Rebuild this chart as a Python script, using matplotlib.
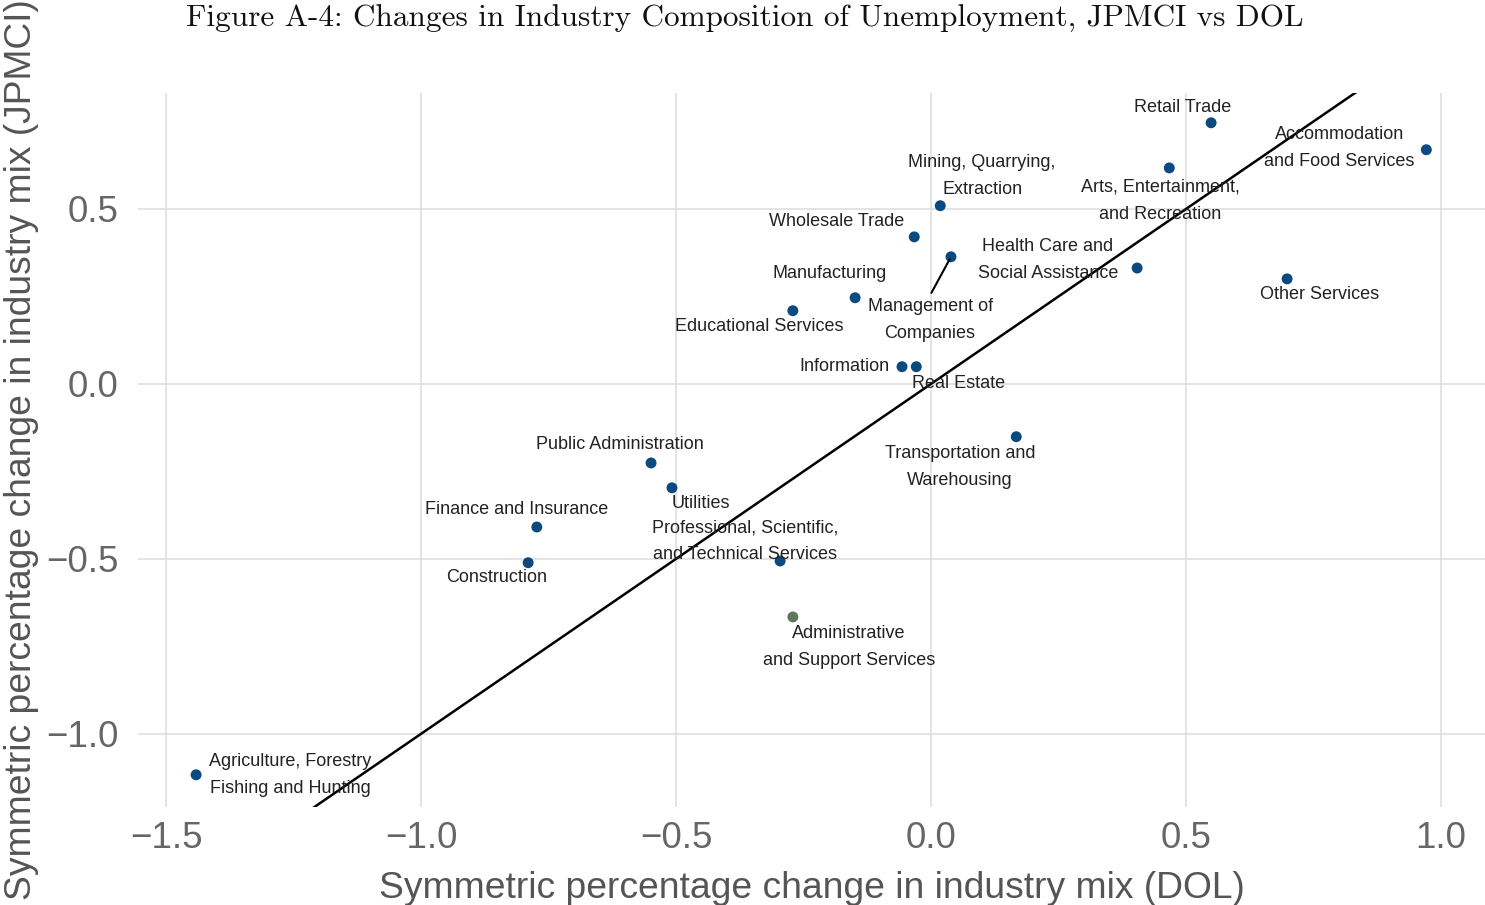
"""Scatter of industry mix changes, JPMCI vs DOL, with 45 degree line."""
import matplotlib
matplotlib.use('Agg')
import matplotlib.pyplot as plt

industries = [
    'Retail Trade', 'Accommodation\nand Food Services', 'Arts, Entertainment,\nand Recreation',
    'Mining, Quarrying,\nExtraction', 'Wholesale Trade', 'Management of\nCompanies',
    'Health Care and\nSocial Assistance', 'Other Services', 'Manufacturing',
    'Educational Services', 'Information', 'Real Estate', 'Transportation and\nWarehousing',
    'Public Administration', 'Utilities', 'Finance and Insurance', 'Construction',
    'Professional, Scientific,\nand Technical Services', 'Administrative\nand Support Services',
    'Agriculture, Forestry\nFishing and Hunting',
]
dol = [0.549, 0.971, 0.467, 0.018, -0.033, 0.039, 0.404, 0.698, -0.149, -0.271,
       -0.057, -0.029, 0.167, -0.549, -0.508, -0.773, -0.790, -0.296, -0.271, -1.441]
jpmci = [0.746, 0.669, 0.617, 0.509, 0.420, 0.363, 0.331, 0.300, 0.246, 0.209,
         0.049, 0.049, -0.151, -0.226, -0.297, -0.409, -0.511, -0.506, -0.666, -1.117]
# label positions (as placed by the repel layout in the original)
label_x = [0.494, 0.800, 0.449, 0.100, -0.186, -0.002, 0.229, 0.761, -0.198, -0.337,
           -0.169, 0.053, 0.057, -0.610, -0.451, -0.812, -0.851, -0.365, -0.161, -1.257]
label_y = [0.791, 0.674, 0.523, 0.594, 0.463, 0.183, 0.354, 0.254, 0.314, 0.163,
           0.049, 0.000, -0.237, -0.174, -0.343, -0.360, -0.554, -0.449, -0.751, -1.117]

xticks = [-1.5, -1.0, -0.5, 0.0, 0.5, 1.0]
yticks = [-1.0, -0.5, 0.0, 0.5]

plt.rcParams['font.family'] = ['Liberation Sans', 'DejaVu Sans']

fig = plt.figure(figsize=(14.85, 9.05), dpi=100)
ax = fig.add_axes([0.0929, 0.1083, 0.9071, 0.7889])

ax.set_xlim(-1.555, 1.086)
ax.set_ylim(-1.209, 0.831)

ax.plot([-2, 2], [-2, 2], color='black', lw=1.8, zorder=2)

colors = ['#0b4a80'] * len(dol)
colors[industries.index('Administrative\nand Support Services')] = '#5f7a5a'
ax.scatter(dol, jpmci, s=62, c=colors, zorder=3, linewidths=0)

for name, x, y, lx, ly in zip(industries, dol, jpmci, label_x, label_y):
    ax.text(lx, ly, name, ha='center', va='center', fontsize=13, color='#222222',
            linespacing=1.75, zorder=4)
    if name.startswith('Management'):
        ax.annotate('', xy=(x, y), xytext=(lx, ly + 0.07),
                    arrowprops=dict(arrowstyle='-', color='black', lw=1.5))

ax.set_xticks(xticks)
ax.set_yticks(yticks)
ax.set_xticklabels([f'{t:.1f}'.replace('-', '\u2212') for t in xticks])
ax.set_yticklabels([f'{t:.1f}'.replace('-', '\u2212') for t in yticks])
ax.tick_params(axis='both', length=0, labelsize=26.5, labelcolor='#666666')
ax.tick_params(axis='x', pad=10)
ax.tick_params(axis='y', pad=14)
ax.grid(True, color='#dcdcdc', lw=1.1)
ax.set_axisbelow(True)
for s in ax.spines.values():
    s.set_visible(False)

ax.set_xlabel('Symmetric percentage change in industry mix (DOL)', fontsize=26.8,
              color='#555555', labelpad=11)
ax.set_ylabel('Symmetric percentage change in industry mix (JPMCI)', fontsize=26.8,
              color='#555555', labelpad=5)

fig.text(0.5017, 0.979, 'Figure A-4: Changes in Industry Composition of Unemployment, JPMCI vs DOL',
         ha='center', va='center', fontsize=22.5, family='cmr10', color='#111111')

plt.savefig('out.png', dpi=100)
